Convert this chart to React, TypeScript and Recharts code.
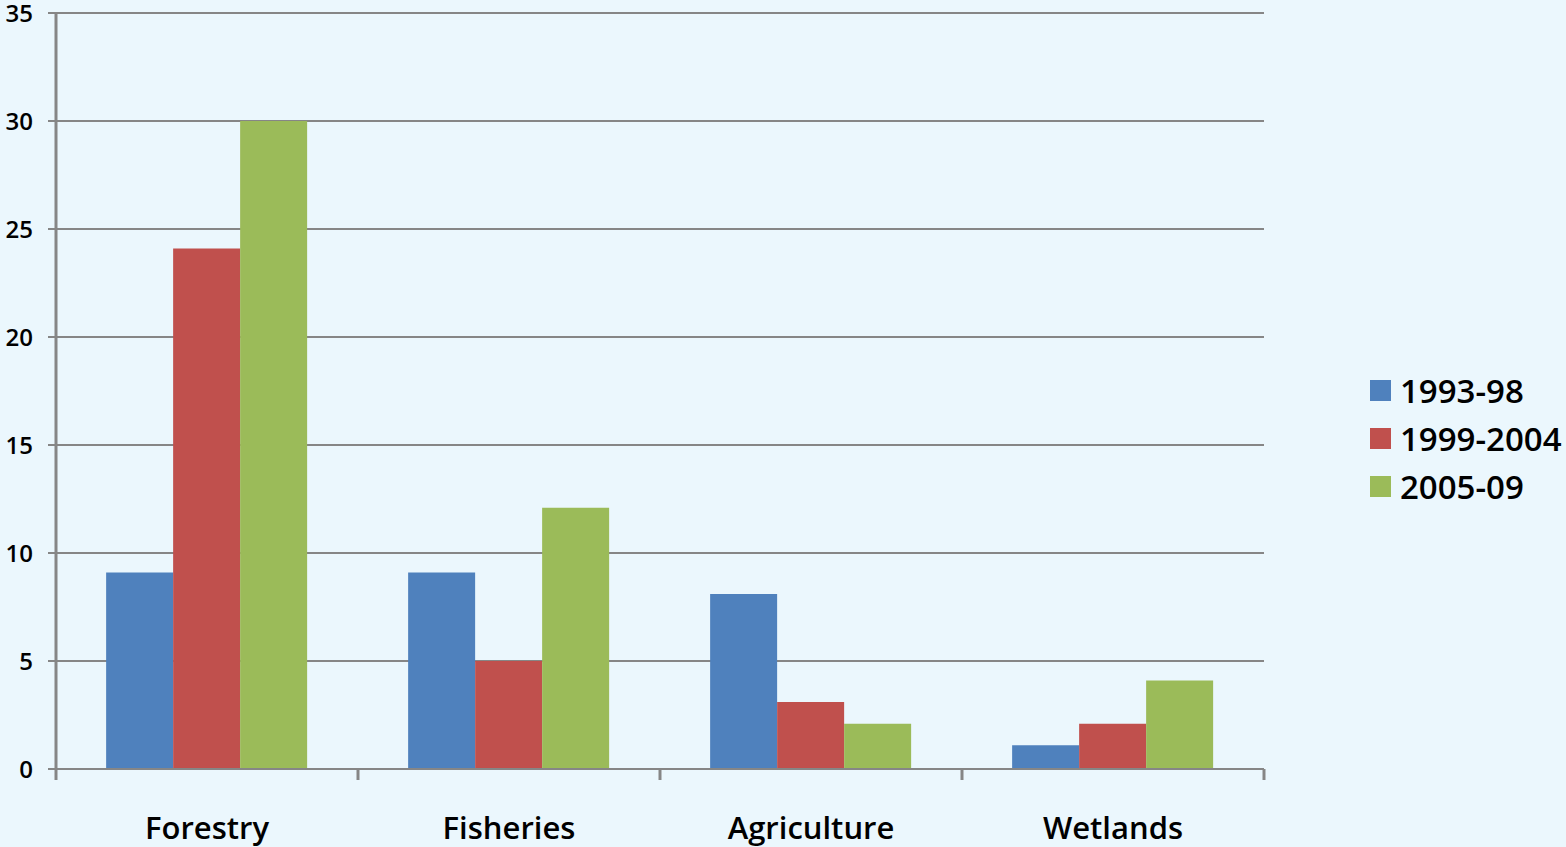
import React from 'react';
import { BarChart, Bar, XAxis, YAxis, CartesianGrid, Legend } from 'recharts';

const categories = ['Forestry', 'Fisheries', 'Agriculture', 'Wetlands'];
const series1993 = [9.1, 9.1, 8.1, 1.1];
const series1999 = [24.1, 5, 3.1, 2.1];
const series2005 = [30, 12.1, 2.1, 4.1];
const seriesNames = ['1993-98', '1999-2004', '2005-09'];
const seriesColors = ['#4F81BD', '#C0504D', '#9BBB59'];
const yTicks = [0, 5, 10, 15, 20, 25, 30, 35];

const data = categories.map((c, i) => ({
  name: c,
  s0: series1993[i],
  s1: series1999[i],
  s2: series2005[i],
}));

const FONT = '"Open Sans", sans-serif';
const AXIS = '#868686';
const LEGEND_W = 196;

const XTick = (props: any) => {
  const { x, y, payload, index } = props;
  const off = payload && typeof payload.offset === 'number' ? payload.offset : 151;
  return (
    <g>
      <line x1={x - off} x2={x - off} y1={y} y2={y + 11} stroke={AXIS} strokeWidth={3} />
      {index === categories.length - 1 && (
        <line x1={x + off} x2={x + off} y1={y} y2={y + 11} stroke={AXIS} strokeWidth={3} />
      )}
      <text x={x} y={y + 48} dy="0.71em" textAnchor="middle" fontFamily={FONT} fontSize={31} fontWeight={600} fill="#000">
        {payload.value}
      </text>
    </g>
  );
};

const LegendContent = () => (
  <div style={{ fontFamily: FONT, fontSize: 33, fontWeight: 600, color: '#000' }}>
    {seriesNames.map((n, i) => (
      <div key={n} style={{ display: 'flex', alignItems: 'center', height: 48, whiteSpace: 'nowrap' }}>
        <span style={{ display: 'inline-block', width: 21, height: 21, background: seriesColors[i], marginRight: 9 }} />
        <span>{n}</span>
      </div>
    ))}
  </div>
);

export default function App() {
  return (
    <div style={{ position: 'absolute', left: 0, top: 0, width: 1566, height: 847, background: '#EBF7FD' }}>
      <BarChart
        width={1566}
        height={847}
        data={data}
        margin={{ top: 13, right: 302 - LEGEND_W, left: 0, bottom: 0 }}
        barCategoryGap="16.6%"
        barGap={0}
      >
        <CartesianGrid vertical={false} stroke={AXIS} strokeWidth={2} />
        <XAxis
          dataKey="name"
          height={78}
          axisLine={{ stroke: AXIS, strokeWidth: 2 }}
          tickLine={false}
          tickSize={0}
          tickMargin={0}
          tick={<XTick />}
          interval={0}
        />
        <YAxis
          width={56}
          domain={[0, 35]}
          ticks={yTicks}
          interval={0}
          axisLine={{ stroke: AXIS, strokeWidth: 3 }}
          tickLine={{ stroke: AXIS, strokeWidth: 2 }}
          tickSize={8}
          tickMargin={15}
          tick={{ fontFamily: FONT, fontSize: 24, fontWeight: 600, fill: '#000' }}
        />
        <Legend
          layout="horizontal"
          verticalAlign="middle"
          align="right"
          content={<LegendContent />}
          wrapperStyle={{ position: 'absolute', left: 1370, top: 366, width: LEGEND_W }}
        />
        <Bar dataKey="s0" name={seriesNames[0]} fill={seriesColors[0]} isAnimationActive={false} />
        <Bar dataKey="s1" name={seriesNames[1]} fill={seriesColors[1]} isAnimationActive={false} />
        <Bar dataKey="s2" name={seriesNames[2]} fill={seriesColors[2]} isAnimationActive={false} />
      </BarChart>
    </div>
  );
}
